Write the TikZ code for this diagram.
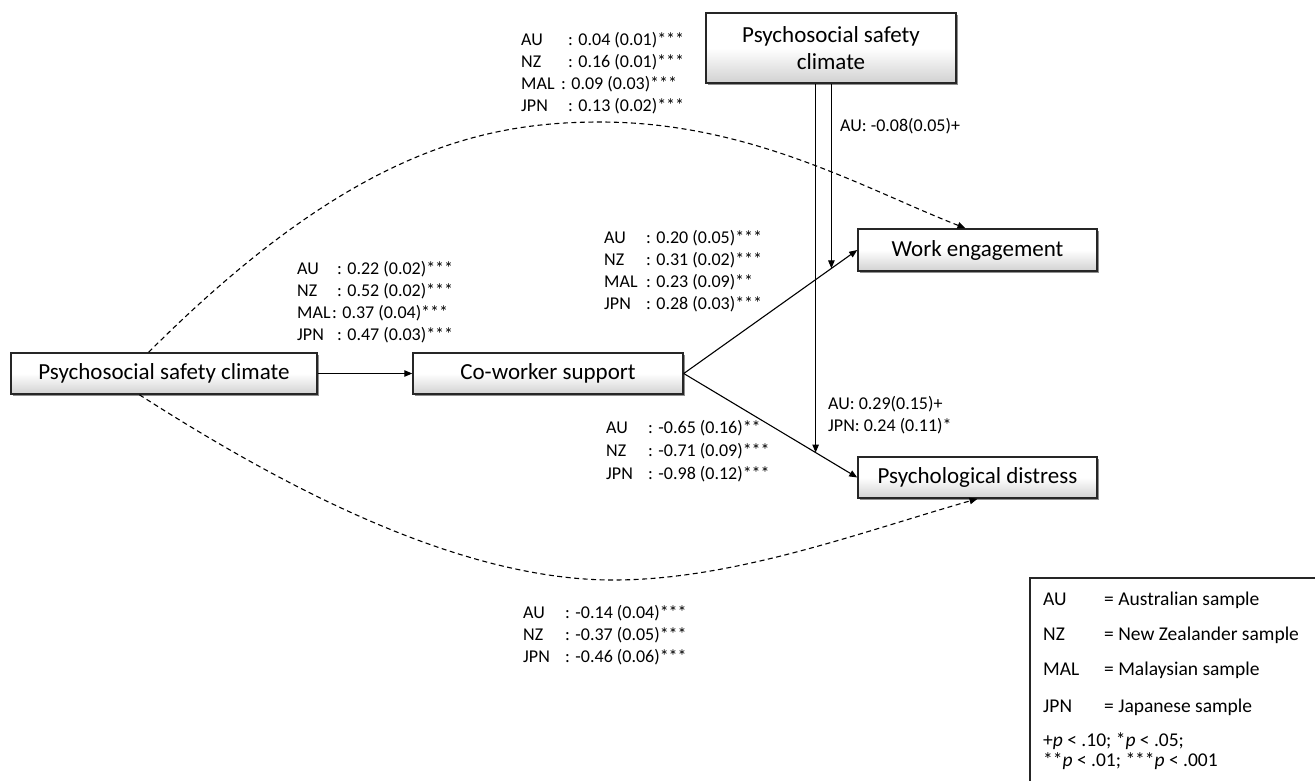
\documentclass[tikz,border=0pt]{standalone}
\usepackage{fontspec}
\setmainfont{Carlito}
\usetikzlibrary{arrows.meta,shadows,calc}
\tikzset{
  box/.style={draw=black!85, line width=1.5pt, top color=white, bottom color=black!18, middle color=white,
    inner sep=0pt, align=center, font=\fontsize{23}{27}\selectfont,
    drop shadow={shadow xshift=1.8pt, shadow yshift=-1.8pt, fill=black!55, opacity=0.8}},
  arr/.style={line width=1.1pt, -{Triangle[length=8pt,width=6.5pt]}},
  dasharr/.style={arr, dash pattern=on 5pt off 3.5pt},
  lab/.style={anchor=north west, inner sep=0pt, font=\fontsize{18}{22}\selectfont},
}
\begin{document}
\begin{tikzpicture}[x=1pt,y=-1pt]
\useasboundingbox (0,0) rectangle (1315,780);
\fill[white] (0,0) rectangle (1315,780);

% boxes
\node[box, minimum width=306pt, minimum height=41pt] (psc) at (164,373.5) {Psychosocial safety climate};
\node[box, minimum width=270pt, minimum height=41pt] (cws) at (548,373.5) {Co-worker support};
\node[box, minimum width=250pt, minimum height=70pt] (top) at (831,48) {Psychosocial safety\\climate};
\node[box, minimum width=239pt, minimum height=42pt] (we) at (977.5,250) {Work engagement};
\node[box, minimum width=239pt, minimum height=41pt] (pd) at (977.5,477.5) {Psychological distress};

% solid paths
\draw[arr] (psc) -- (cws);
\draw[arr] (cws.east) -- (we.west);
\draw[arr] (cws.east) -- (pd.west);

% moderation arrows
\coordinate (m1) at ($(cws.east)!0.76!(pd.west)$);
\coordinate (m2) at ($(cws.east)!0.851!(we.west)$);
\draw[arr] (m1 |- top.south) -- (m1);
\draw[arr] (m2 |- top.south) -- (m2);

% dashed direct paths
\coordinate (t0) at ($(psc.north west)!0.45!(psc.north east)$);
\coordinate (t1) at ($(we.north west)!0.45!(we.north east)$);
\coordinate (b0) at ($(psc.south west)!0.42!(psc.south east)$);
\coordinate (b1) at ($(pd.south west)!0.5!(pd.south east)$);
\draw[dasharr] (t0) .. controls (348,153) and (480,122) .. (600,122)
  .. controls (750,122) and (865,189) .. (t1);
\draw[dasharr] (b0) .. controls (290,491.5) and (463,580) .. (613,580)
  .. controls (733,580) and (858,533) .. (b1);

% coefficient labels
\node[lab] (lbtop) at (521,29.4) {\begin{tabular}{@{}p{47pt}@{}l@{}}
AU & : 0.04 (0.01)***\\
NZ & : 0.16 (0.01)***\\
MAL & \hspace{-7pt}: 0.09 (0.03)***\\
JPN & : 0.13 (0.02)***
\end{tabular}};

\node[lab] (lbpc) at (297,258.4) {\begin{tabular}{@{}p{40pt}@{}l@{}}
AU & : 0.22 (0.02)***\\
NZ & : 0.52 (0.02)***\\
MAL & \hspace{-5pt}: 0.37 (0.04)***\\
JPN & : 0.47 (0.03)***
\end{tabular}};

\node[lab] (lbwe) at (604,227.4) {\begin{tabular}{@{}p{42pt}@{}l@{}}
AU & : 0.20 (0.05)***\\
NZ & : 0.31 (0.02)***\\
MAL & : 0.23 (0.09)**\\
JPN & : 0.28 (0.03)***
\end{tabular}};

\node[lab] (lbpd) at (606,417.4) {\begin{tabular}{@{}p{42pt}@{}l@{}}
AU & : -0.65 (0.16)**\\[1pt]
NZ & : -0.71 (0.09)***\\[1pt]
JPN & : -0.98 (0.12)***
\end{tabular}};

\node[lab] (lbbot) at (523,602.4) {\begin{tabular}{@{}p{42pt}@{}l@{}}
AU & : -0.14 (0.04)***\\
NZ & : -0.37 (0.05)***\\
JPN & : -0.46 (0.06)***
\end{tabular}};

\node[lab] (lbmodwe) at (840,115.4) {\begin{tabular}{@{}l@{}}
AU: -0.08(0.05)+
\end{tabular}};

\node[lab] (lbmodpd) at (828,393.4) {\begin{tabular}{@{}l@{}}
AU: 0.29(0.15)+\\
JPN: 0.24 (0.11)*
\end{tabular}};

% legend
\draw[draw=black!85, line width=1.3pt] (1030,578) rectangle (1340,800);
\node[anchor=north west, inner sep=0pt, font=\fontsize{19.5}{20}\selectfont] (legend) at (1043,591.3)
{\begin{tabular}{@{}p{61pt}@{}l@{}}
AU & = Australian sample\\[15pt]
NZ & = New Zealander sample\\[15pt]
MAL & = Malaysian sample\\[17pt]
JPN & = Japanese sample\\[14pt]
\multicolumn{2}{@{}l@{}}{+\textit{p} < .10; *\textit{p} < .05;}\\
\multicolumn{2}{@{}l@{}}{**\textit{p} < .01; ***\textit{p} < .001}
\end{tabular}};
\end{tikzpicture}
\end{document}
